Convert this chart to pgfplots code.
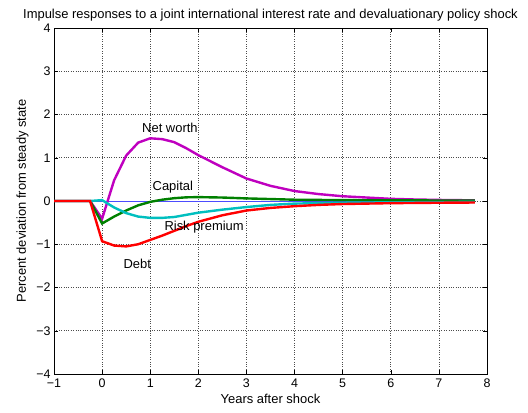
\documentclass[border=0pt]{standalone}
\usepackage{pgfplots}
\pgfplotsset{compat=1.18}
\usepackage{fontspec}
\setmainfont{Liberation Sans}
\definecolor{mmag}{RGB}{191,0,191}
\definecolor{mgreen}{RGB}{0,128,0}
\definecolor{mcyan}{RGB}{0,191,191}
\newcommand{\ff}{\fontsize{13}{15}\selectfont}
\newcommand{\ft}{\fontsize{12.5}{14}\selectfont}
\begin{document}
\begin{tikzpicture}[x=1bp,y=1bp]
\begin{axis}[
  scale only axis, width=433bp, height=346bp,
  at={(54bp,39bp)}, anchor=south west,
  xmin=-1, xmax=8, ymin=-4, ymax=4,
  xtick={-1,0,...,8}, ytick={-4,-3,...,4},
  xticklabels={−1,0,1,2,3,4,5,6,7,8},
  yticklabels={−4,−3,−2,−1,0,1,2,3,4},
  tick align=inside, major tick length=4bp,
  tick style={black, line width=0.5pt},
  grid=major,
  major grid style={black!70, dotted, line width=0.6pt},
  axis line style={black, line width=0.8pt},
  font=\ff,
  tick label style={font=\ft},
  xticklabel style={yshift=-1bp},
  title={Impulse responses to a joint international interest rate and devaluationary policy shock},
  title style={font=\ff, yshift=-3bp},
  xlabel={Years after shock},
  ylabel={Percent deviation from steady state},
  xlabel style={yshift=0bp},
  ylabel style={yshift=1bp},
  clip=false,
]
\addplot[blue!70, line width=0.8pt] coordinates {(-1,0) (7.75,0)};
\addplot[mmag, line width=2.4bp] coordinates {
(-1,0) (-0.25,0) (0,-0.41) (0.25,0.48) (0.5,1.05) (0.75,1.35) (1,1.45) (1.25,1.43)
(1.5,1.36) (1.75,1.22) (2,1.06) (2.25,0.92) (2.5,0.78) (2.75,0.65) (3,0.52)
(3.5,0.35) (4,0.23) (4.5,0.16) (5,0.11) (5.5,0.08) (6,0.05) (6.5,0.035) (7,0.025) (7.75,0.015)};
\addplot[mgreen, line width=2.4bp] coordinates {
(-1,0) (-0.25,0) (0,-0.52) (0.25,-0.36) (0.5,-0.22) (0.75,-0.1) (1,-0.02) (1.25,0.03)
(1.5,0.065) (1.75,0.085) (2,0.09) (2.5,0.08) (3,0.06) (3.5,0.045) (4,0.03) (5,0.02) (6,0.015) (7.75,0.01)};
\addplot[mcyan, line width=2.4bp] coordinates {
(-1,0) (-0.25,0) (0,0.02) (0.25,-0.15) (0.5,-0.28) (0.75,-0.36) (1,-0.39) (1.25,-0.39)
(1.5,-0.37) (1.75,-0.32) (2,-0.27) (2.5,-0.2) (3,-0.14) (3.5,-0.09) (4,-0.06) (5,-0.04) (6,-0.03) (7.75,-0.02)};
\addplot[red, line width=2.4bp] coordinates {
(-1,0) (-0.25,0) (0,-0.93) (0.25,-1.03) (0.5,-1.05) (0.75,-1.0) (1,-0.9) (1.25,-0.8)
(1.5,-0.69) (1.75,-0.58) (2,-0.48) (2.5,-0.33) (3,-0.22) (3.5,-0.16) (4,-0.12) (4.5,-0.09)
(5,-0.07) (6,-0.05) (7,-0.04) (7.75,-0.035)};
\node[font=\ff] at (axis cs:1.41,1.69) {Net worth};
\node[font=\ff] at (axis cs:1.47,0.32) {Capital};
\node[font=\ff] at (axis cs:2.12,-0.6) {Risk premium};
\node[font=\ff] at (axis cs:0.73,-1.45) {Debt};
\end{axis}
\pgfresetboundingbox
\path[use as bounding box] (0,0) rectangle (528bp,413bp);
\end{tikzpicture}
\end{document}
